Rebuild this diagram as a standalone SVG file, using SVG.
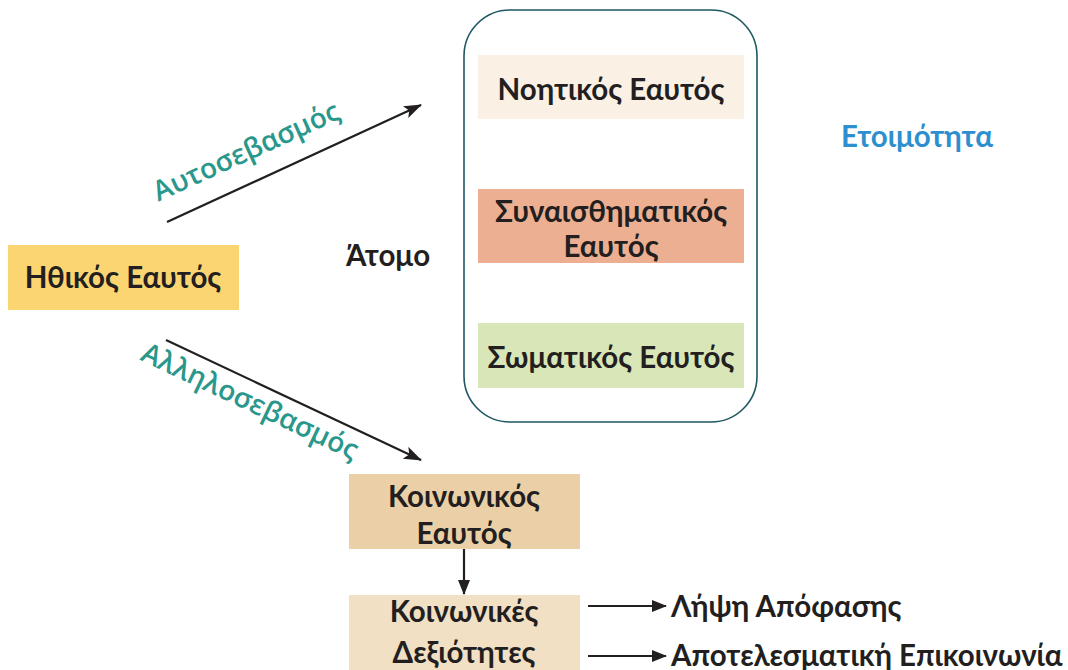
<svg xmlns="http://www.w3.org/2000/svg" width="1068" height="670" viewBox="0 0 1068 670">
<defs>
<marker id="ah" markerWidth="15" markerHeight="12" refX="14" refY="6" orient="auto" markerUnits="userSpaceOnUse">
<path d="M0,0 L15,6 L0,12 Z" fill="#231F20"/>
</marker>
<marker id="ahL" markerWidth="18" markerHeight="13" refX="17" refY="6.5" orient="auto" markerUnits="userSpaceOnUse">
<path d="M0,0 L18,6.5 L0,13 L4,6.5 Z" fill="#231F20"/>
</marker>
<style>
.t{font-family:Lato,"Noto Sans",sans-serif;font-weight:700;font-size:29.5px;fill:#231F20;text-anchor:middle}
.lbl{font-family:"Open Sans","Noto Sans",sans-serif;font-weight:600;font-size:28px;fill:#2A978C;text-anchor:middle}
.c{stroke:#231F20;stroke-width:2.2;fill:none}
</style>
</defs>
<rect width="1068" height="670" fill="#ffffff"/>
<g id="container">
<rect x="464" y="10" width="293" height="412" rx="46" ry="46" fill="#ffffff" stroke="#1F5763" stroke-width="1.6"/>
</g>
<g id="noitikos">
<rect x="478" y="55" width="266" height="64" fill="#FBF0E4"/>
<text class="t" x="611" y="100">Νοητικός Εαυτός</text>
</g>
<g id="synaisthimatikos">
<rect x="478" y="189" width="266" height="74" fill="#EDAF92"/>
<text class="t" x="611" y="222">Συναισθηματικός</text>
<text class="t" x="611" y="257">Εαυτός</text>
</g>
<g id="somatikos">
<rect x="478" y="323" width="266" height="65" fill="#D8E6B8"/>
<text class="t" x="611" y="368">Σωματικός Εαυτός</text>
</g>
<g id="ithikos">
<rect x="8" y="245" width="231" height="65" fill="#FAD571"/>
<text class="t" x="123" y="288">Ηθικός Εαυτός</text>
</g>
<g id="atomo">
<text class="t" x="388" y="266">Άτομο</text>
</g>
<g id="etoimotita">
<text class="t" x="917" y="147" style="fill:#2E8FCF">Ετοιμότητα</text>
</g>
<g id="koinonikos">
<rect x="349" y="474" width="231" height="75" fill="#EBCFA6"/>
<text class="t" x="464" y="507">Κοινωνικός</text>
<text class="t" x="464" y="544">Εαυτός</text>
</g>
<g id="dexiotites">
<rect x="349" y="595" width="231" height="75" fill="#F2E0C4"/>
<text class="t" x="464" y="622">Κοινωνικές</text>
<text class="t" x="464" y="663">Δεξιότητες</text>
</g>
<g id="lipsi">
<text class="t" x="671" y="617" style="text-anchor:start">Λήψη Απόφασης</text>
</g>
<g id="epikoinonia">
<text class="t" x="671" y="666" style="text-anchor:start">Αποτελεσματική Επικοινωνία</text>
</g>
<g id="connectors">
<line class="c" x1="167" y1="222" x2="421" y2="105" marker-end="url(#ahL)"/>
<line class="c" x1="166" y1="340" x2="421" y2="460" marker-end="url(#ahL)"/>
<line class="c" x1="464" y1="549" x2="464" y2="594" marker-end="url(#ah)"/>
<line class="c" x1="588" y1="606" x2="666" y2="606" marker-end="url(#ah)"/>
<line class="c" x1="588" y1="656" x2="666" y2="656" marker-end="url(#ah)"/>
<text class="lbl" transform="translate(250,160) rotate(-24.5)">Αυτοσεβασμός</text>
<text class="lbl" transform="translate(246,410) rotate(25.3)">Αλληλοσεβασμός</text>
</g>
</svg>
